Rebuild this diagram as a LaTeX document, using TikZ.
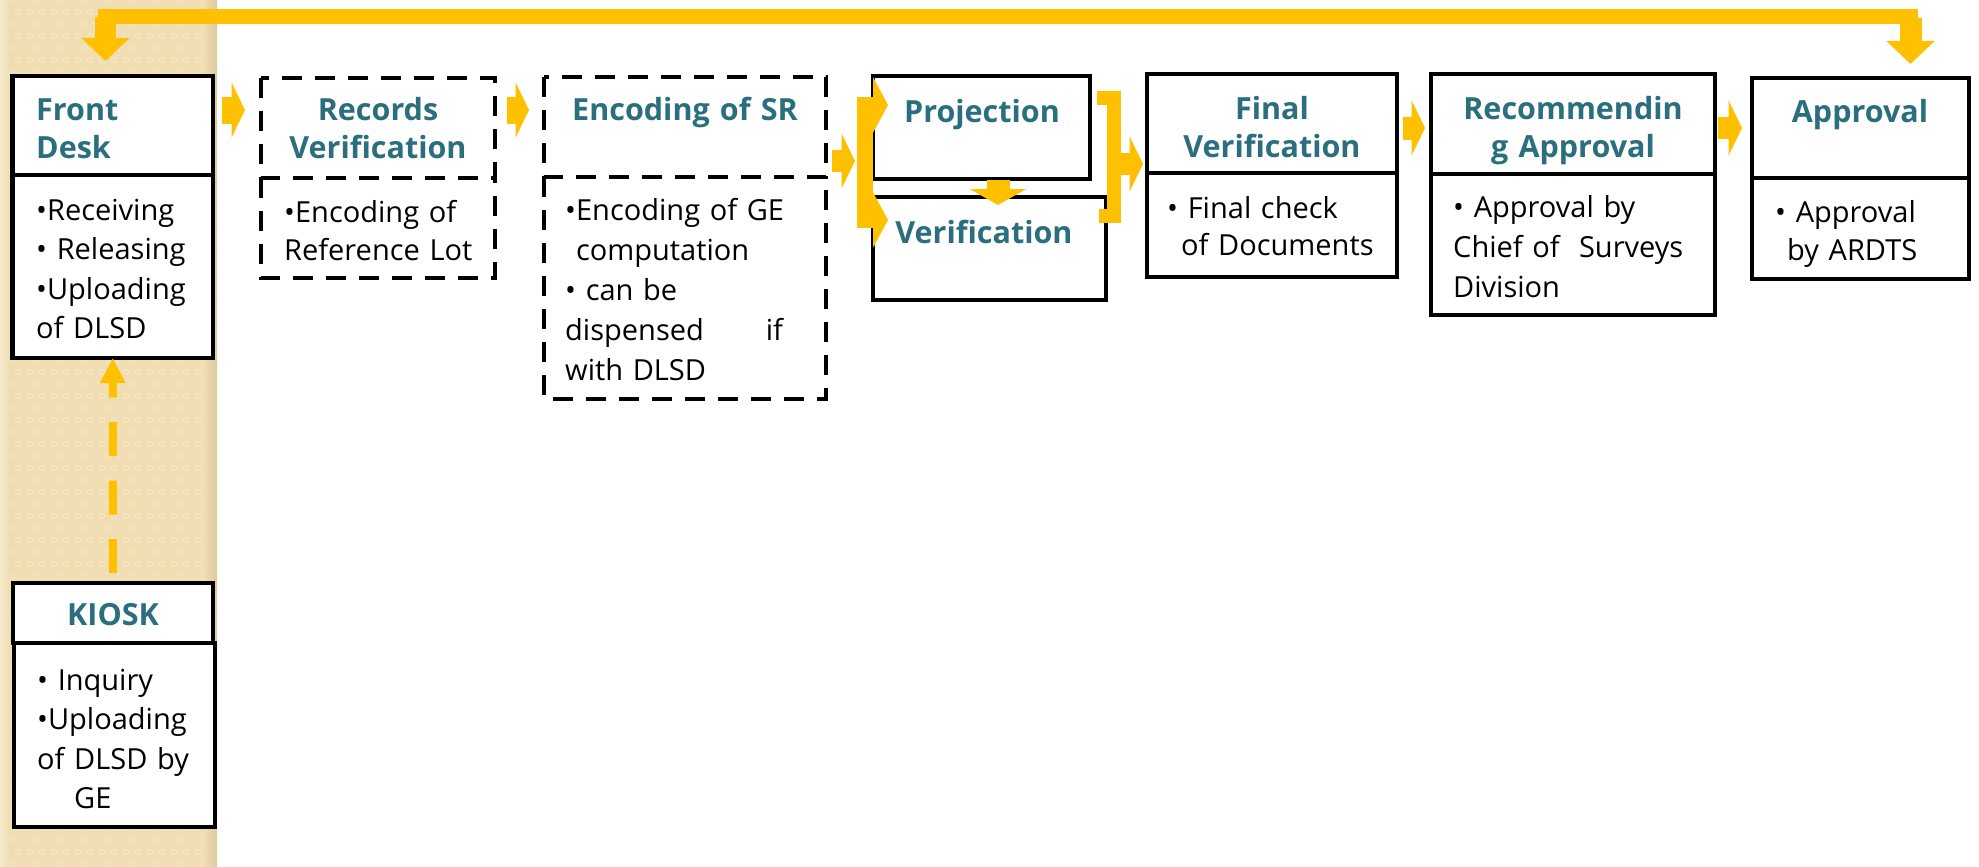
\documentclass[tikz,border=0pt]{standalone}
\usepackage{fontspec}
\setmainfont{Open Sans}
\usetikzlibrary{arrows.meta,fit}
\definecolor{ylw}{HTML}{FFC000}
\definecolor{teal1}{HTML}{2B6F7E}
\definecolor{tan1}{RGB}{240,222,178}
\definecolor{tan2}{RGB}{246,233,202}
\definecolor{tan3}{RGB}{220,202,158}
\begin{document}
\begin{tikzpicture}[x=1pt,y=-1pt,
  box/.style={draw=black, line width=4.5pt, fill=white, inner sep=0pt, outer sep=0pt, rectangle},
  dfit/.style={draw=none, fill=white, inner sep=0pt, outer sep=0pt, rectangle},
  dsh/.style={draw=black, line width=4.5pt, dash pattern=on 20pt off 13pt},
  ttl/.style={font=\fontsize{30.5}{38}\selectfont\bfseries, text=teal1, inner sep=0pt, text width=300pt, align=center, anchor=base},
  ttlL/.style={ttl, align=left, anchor=base west, text width=180pt},
  bdy/.style={font=\fontsize{29}{39.5}\selectfont, inner sep=0pt, text width=300pt, align=left, anchor=base west},
  blk/.style={draw=ylw, line width=24pt, -{Triangle[width=55pt,length=13.5pt]}},
  ybar/.style={draw=ylw, line width=16pt},
]
\useasboundingbox (0,0) rectangle (1979,867);
\fill[white] (0,0) rectangle (1979,867);
% tan strip
\begin{scope}
\clip (0,0) rectangle (217,867);
\fill[tan1] (0,0) rectangle (217,867);
\foreach \j in {0,...,72}{\foreach \i in {0,...,18}{\draw[tan2, line width=0.8pt] ({\i*12+6*mod(\j,2)},{\j*12}) circle (2.6pt);}}
\shade[left color=tan1, right color=tan3] (204,0) rectangle (217,867);
\shade[left color=tan2, right color=tan1] (0,0) rectangle (10,867);
\end{scope}

% boxes
\node[box, fit={(12.5,76) (213,175)}] (fdh) {};
\node[box, fit={(12.5,175) (213,358)}] (fdb) {};
\node[dfit, fit={(261,78) (495,178)}] (rvh) {};
\node[dfit, fit={(261,178) (495,278)}] (rvb) {};
\draw[dsh] (rvh.north west) rectangle (rvh.south east);
\draw[dsh] (rvb.north west) -- (rvb.south west) -- (rvb.south east) -- (rvb.north east);
\node[dfit, fit={(544,77) (826,177)}] (esh) {};
\node[dfit, fit={(544,177) (826,399)}] (esb) {};
\draw[dsh] (esh.north west) rectangle (esh.south east);
\draw[dsh] (esb.north west) -- (esb.south west) -- (esb.south east) -- (esb.north east);
\node[box, fit={(873,76) (1090,179)}] (pr) {};
\node[box, fit={(873,197) (1106,300)}] (ve) {};
\node[box, fit={(1147,74) (1397,173)}] (fvh) {};
\node[box, fit={(1147,173) (1397,277)}] (fvb) {};
\node[box, fit={(1431,74) (1715,174)}] (rah) {};
\node[box, fit={(1431,174) (1715,315)}] (rab) {};
\node[box, fit={(1752,78) (1969,178)}] (aph) {};
\node[box, fit={(1752,178) (1969,279)}] (apb) {};
\node[box, fit={(13,583) (213,643)}] (kh) {};
\node[box, fit={(14,643) (215,827)}] (kb) {};

% titles
\node[ttlL] (tfd) at (36,121) {Front\\Desk};
\node[ttl] (trv) at (378,121) {Records\\Verification};
\node[ttl] (tes) at (685,121) {Encoding of SR};
\node[ttl] (tpr) at (982,122) {Projection};
\node[ttl] (tve) at (984,243) {Verification};
\node[ttl] (tfv) at (1272,119) {Final\\Verification};
\node[ttl] (tra) at (1573,119) {Recommendin\\g Approval};
\node[ttl] (tap) at (1860,122) {Approval};
\node[ttl] (tk) at (113,625) {KIOSK};

% bodies
\node[bdy] (bfd) at (36,220) {•Receiving\\• Releasing\\•Uploading\\of DLSD};
\node[bdy, font=\fontsize{29}{38}\selectfont] (brv) at (284,222) {•Encoding of\\Reference Lot};
\node[bdy, font=\fontsize{29}{40}\selectfont] (bes) at (565,220) {•Encoding of GE\\\phantom{•}computation\\• can be\\dispensed\hspace*{62pt}if\\with DLSD};
\node[bdy, font=\fontsize{29}{37.5}\selectfont] (bfv) at (1167,218) {• Final check\\\hspace*{14pt}of Documents};
\node[bdy, font=\fontsize{29}{40}\selectfont] (bra) at (1453,217) {• Approval by\\Chief of\ \ Surveys\\Division};
\node[bdy, font=\fontsize{29}{38}\selectfont] (bap) at (1775,222) {• Approval\\\hspace*{12pt}by ARDTS};
\node[bdy] (bk) at (37,690) {• Inquiry\\•Uploading\\of DLSD by\\\hspace*{37pt}GE};

% connectors
\draw[blk, line width=27pt] ([shift={(9,-15.5)}]fdh.east) -- ([shift={(-16,-18)}]rvh.west);
\draw[blk, line width=27pt] ([shift={(12,-18)}]rvh.east) -- ([shift={(-15,-17)}]esh.west);

\coordinate (lbt) at (865,105);
\coordinate (lbb) at (865,220);
\coordinate (lbm) at (865,161);
\draw[blk, line width=22pt] ([shift={(6,34)}]esh.east) -- ([xshift=-10pt]lbm);
\draw[ybar, line cap=rect] (lbt) -- (lbb);
\draw[ybar, -{Triangle[width=55pt,length=15pt]}, shorten >=-15pt] (lbt) -- (lbt -| pr.west);
\draw[ybar, -{Triangle[width=55pt,length=15pt]}, shorten >=-15pt] (lbb) -- (lbb -| ve.west);

\draw[draw=ylw, line width=23pt, -{Triangle[width=56pt,length=16pt]}] ([shift={(16.5,1)}]pr.south) -- ([shift={(8.5,8)}]ve.north);

\coordinate (rb1) at (1097,98);
\coordinate (rb2) at (1113.5,98);
\coordinate (rb3) at (1113.5,215.5);
\coordinate (rb4) at (1099,215.5);
\coordinate (rbm) at (1120,164);
\draw[ybar, line width=14pt] (rb1) -- (rb2) -- (rb3) -- (rb4);
\draw[blk, line width=22pt] (rbm) -- ([shift={(-4,40.5)}]fvh.west);

\draw[blk, line width=23pt] ([shift={(6,4.5)}]fvh.east) -- ([shift={(-6,4)}]rah.west);
\draw[blk, line width=22pt] ([shift={(3,4)}]rah.east) -- ([shift={(-10,0)}]aph.west);

\draw[draw=ylw, line width=15pt, {Triangle[width=47pt,length=23pt]}-{Triangle[width=47pt,length=23pt]}, shorten <=14pt, shorten >=15pt]
  ([xshift=158.5pt]aph.north west) -- ++(0,-61) -| ([xshift=93pt]fdh.north west);
\draw[draw=ylw, line width=22pt] ([shift={(158.5,-35)}]aph.north west) -- ++(0,-25);
\draw[draw=ylw, line width=21pt] ([shift={(93,-37)}]fdh.north west) -- ++(0,-22);

\draw[draw=ylw, line width=8pt, dash pattern=on 34pt off 24.5pt, -{Triangle[width=24pt,length=25pt]}, shorten <=10pt] (kh.north) -- (fdb.south);
\end{tikzpicture}
\end{document}
